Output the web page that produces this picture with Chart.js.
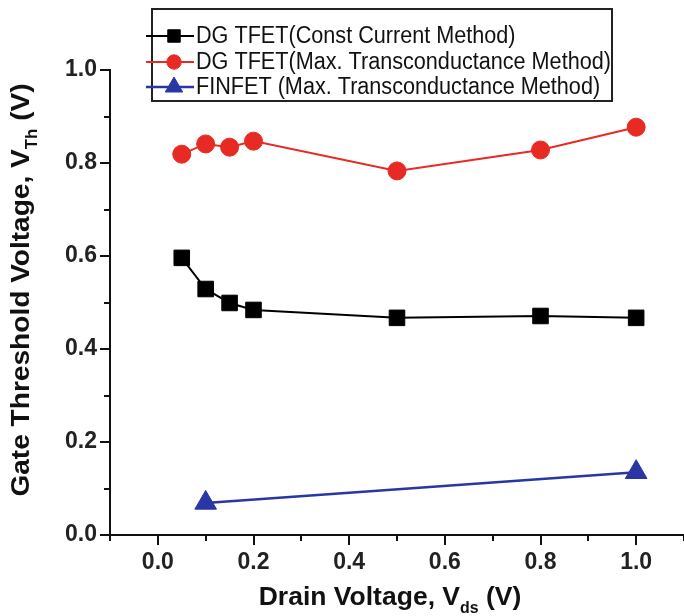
<!DOCTYPE html>
<html><head><meta charset="utf-8">
<script src="https://cdn.jsdelivr.net/npm/chart.js@4/dist/chart.umd.min.js"></script>
<style>html,body{margin:0;padding:0;background:#fff}#wrap{width:684px;height:616px}</style>
</head><body><div id="wrap"><canvas id="c" width="684" height="616"></canvas></div>
<script>
const drainVoltage = [0.05, 0.1, 0.15, 0.2, 0.5, 0.8, 1.0];
const constCurrentVth = [0.596, 0.529, 0.499, 0.484, 0.467, 0.471, 0.467];
const maxGmVth = [0.819, 0.841, 0.834, 0.847, 0.783, 0.828, 0.877];
const finfetVds = [0.1, 1.0];
const finfetVth = [0.069, 0.135];
const seriesNames = ['DG TFET(Const Current Method)', 'DG TFET(Max. Transconductance Method)', 'FINFET (Max. Transconductance Method)'];
const xTickLabels = ['0.0', '0.2', '0.4', '0.6', '0.8', '1.0'];
const yTickLabels = ['0.0', '0.2', '0.4', '0.6', '0.8', '1.0'];

const RED = 'rgb(232,42,36)';
const BLUE = 'rgb(42,54,164)';
const BLACK = '#000';
const FONT = '"Liberation Sans", Arial, sans-serif';

function pts(xs, ys) { return xs.map((x, i) => ({ x: x, y: ys[i] })); }
function labelFor(list, v) {
  const s = (Math.round(v * 10) / 10).toFixed(1);
  return list.indexOf(s) >= 0 ? s : '';
}
function isMajor(list, v) { return labelFor(list, v) !== ''; }

function drawRich(ctx, parts, x, y, size, sx) {
  let total = 0;
  const ws = parts.map(p => {
    ctx.font = 'bold ' + (p.sub ? size * 0.6 : size) + 'px ' + FONT;
    const w = ctx.measureText(p.t).width;
    total += w; return w;
  });
  ctx.save();
  ctx.translate(x, y);
  ctx.scale(sx, 1);
  let cx = -total / 2;
  ctx.textBaseline = 'middle';
  ctx.textAlign = 'left';
  ctx.fillStyle = '#111';
  parts.forEach((p, i) => {
    ctx.font = 'bold ' + (p.sub ? size * 0.6 : size) + 'px ' + FONT;
    ctx.fillText(p.t, cx, p.sub ? size * 0.42 : 0);
    cx += ws[i];
  });
  ctx.restore();
}

const extras = {
  id: 'extras',
  afterDraw(chart) {
    const ctx = chart.ctx;
    const xs = chart.scales.x, ys = chart.scales.y;
    const area = chart.chartArea;
    ctx.save();
    // minor ticks
    ctx.strokeStyle = '#111';
    ctx.lineWidth = 2;
    ctx.beginPath();
    xs.ticks.forEach(t => {
      if (!isMajor(xTickLabels, t.value)) {
        const px = Math.round(xs.getPixelForValue(t.value));
        ctx.moveTo(px, area.bottom); ctx.lineTo(px, area.bottom + 6);
      }
    });
    ys.ticks.forEach(t => {
      if (!isMajor(yTickLabels, t.value)) {
        const py = Math.round(ys.getPixelForValue(t.value));
        ctx.moveTo(area.left, py); ctx.lineTo(area.left - 6, py);
      }
    });
    ctx.stroke();

    // axis titles
    drawRich(ctx, [{ t: 'Drain Voltage, V' }, { t: 'ds', sub: true }, { t: ' (V)' }], 390, 598, 26, 1.02);
    ctx.save();
    ctx.translate(22, 290);
    ctx.rotate(-Math.PI / 2);
    drawRich(ctx, [{ t: 'Gate Threshold Voltage, V' }, { t: 'Th', sub: true }, { t: ' (V)' }], 0, 0, 26, 1.08);
    ctx.restore();

    // legend
    ctx.lineWidth = 2;
    ctx.strokeStyle = '#222';
    ctx.strokeRect(152, 9, 460, 92);
    const rows = [36, 62, 87];
    chart.data.datasets.forEach((ds, i) => {
      const y = rows[i];
      ctx.strokeStyle = ds.borderColor;
      ctx.lineWidth = ds.borderWidth;
      ctx.beginPath(); ctx.moveTo(146, y); ctx.lineTo(194, y); ctx.stroke();
      ctx.fillStyle = ds.pointBackgroundColor;
      ctx.strokeStyle = ds.pointBorderColor;
      ctx.lineWidth = 1;
      Chart.helpers.drawPoint(ctx, { pointStyle: ds.pointStyle, radius: ds.pointRadius * 0.8, rotation: 0, borderWidth: 1 }, 174, y);
      ctx.fillStyle = '#111';
      ctx.font = '23px ' + FONT;
      ctx.textBaseline = 'middle';
      ctx.textAlign = 'left';
      ctx.save();
      ctx.translate(196, y + 1);
      ctx.scale(0.94, 1);
      ctx.fillText(ds.label, 0, 0);
      ctx.restore();
    });
    ctx.restore();
  }
};

const tickFont = { family: FONT, size: 23, weight: 'bold' };

new Chart(document.getElementById('c'), {
  type: 'line',
  data: {
    datasets: [
      { label: seriesNames[0], data: pts(drainVoltage, constCurrentVth), borderColor: BLACK, backgroundColor: BLACK,
        pointBackgroundColor: BLACK, pointBorderColor: BLACK, borderWidth: 2, pointStyle: 'rect', pointRadius: 11, pointBorderWidth: 1 },
      { label: seriesNames[1], data: pts(drainVoltage, maxGmVth), borderColor: RED, backgroundColor: RED,
        pointBackgroundColor: RED, pointBorderColor: RED, borderWidth: 2, pointStyle: 'circle', pointRadius: 9, pointBorderWidth: 1 },
      { label: seriesNames[2], data: pts(finfetVds, finfetVth), borderColor: BLUE, backgroundColor: BLUE,
        pointBackgroundColor: BLUE, pointBorderColor: BLUE, borderWidth: 2.5, pointStyle: 'triangle', pointRadius: 12.5, pointBorderWidth: 1 }
    ]
  },
  options: {
    responsive: false,
    animation: false,
    layout: { autoPadding: false, padding: { top: 70, left: 0, right: 0, bottom: 0 } },
    plugins: { legend: { display: false }, tooltip: { enabled: false } },
    elements: { line: { tension: 0 } },
    scales: {
      x: {
        type: 'linear', min: -0.1, max: 1.1,
        afterFit(s) { s.height = 81; s.paddingLeft = 0; s.paddingRight = 0; },
        ticks: { stepSize: 0.1, autoSkip: false, maxRotation: 0, color: '#222', font: tickFont, padding: 4,
          callback: v => labelFor(xTickLabels, v) },
        grid: { drawOnChartArea: false, drawTicks: true, tickLength: 10, lineWidth: 2,
          color: c => (c.tick && isMajor(xTickLabels, c.tick.value)) ? '#111' : 'rgba(0,0,0,0)' },
        border: { display: true, color: '#111', width: 2 }
      },
      y: {
        type: 'linear', min: 0, max: 1.0,
        afterFit(s) { s.width = 110; s.paddingTop = 0; s.paddingBottom = 0; },
        ticks: { stepSize: 0.1, autoSkip: false, color: '#222', font: tickFont, padding: 3,
          callback: v => labelFor(yTickLabels, v) },
        grid: { drawOnChartArea: false, drawTicks: true, tickLength: 10, lineWidth: 2,
          color: c => (c.tick && isMajor(yTickLabels, c.tick.value)) ? '#111' : 'rgba(0,0,0,0)' },
        border: { display: true, color: '#111', width: 2 }
      }
    }
  },
  plugins: [extras]
});
</script></body></html>
